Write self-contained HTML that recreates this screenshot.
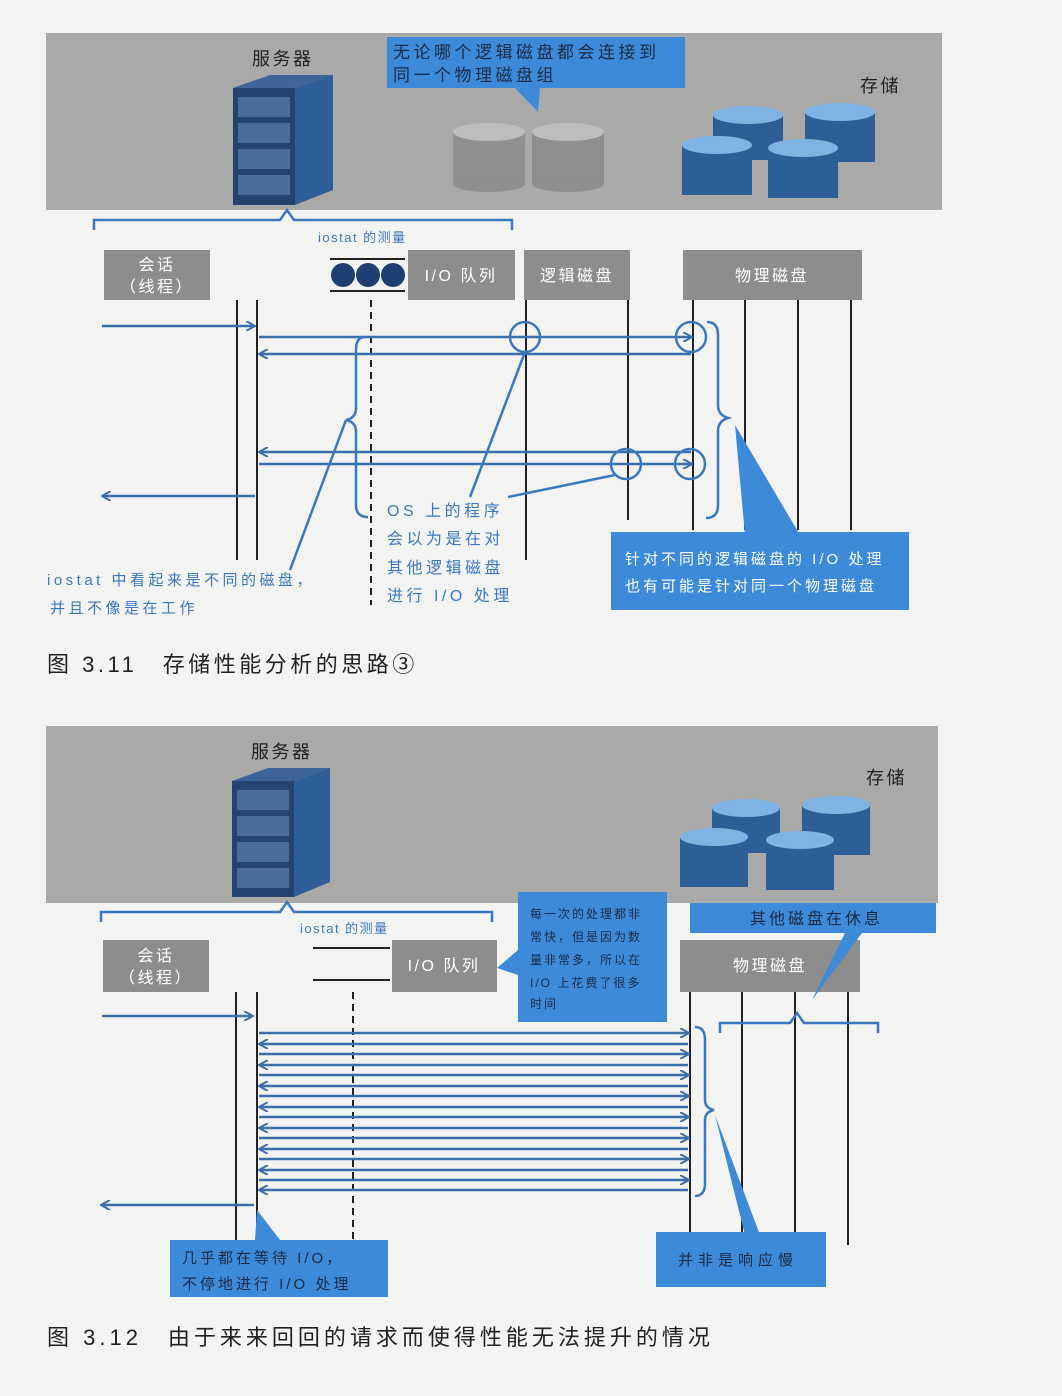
<!DOCTYPE html>
<html><head><meta charset="utf-8"><style>
html,body{margin:0;padding:0;background:#f3f3f1;}
svg{display:block;}
text{font-family:"Liberation Sans","Noto Sans CJK SC",sans-serif;}
.hw{font-size:16px;fill:#2a3a55;letter-spacing:2.5px;}
.hwb{font-size:15px;fill:#fff;letter-spacing:3px;}
.ln{stroke:#222;stroke-width:2;fill:none;}
.bl{stroke:#3a78c0;stroke-width:2.5;fill:none;}
.ar{stroke:#3a6fae;stroke-width:2.5;fill:none;}
.cap{font-size:22px;fill:#222;letter-spacing:3.5px;}
</style></head><body>
<svg width="1062" height="1396" viewBox="0 0 1062 1396" xmlns="http://www.w3.org/2000/svg">
<defs>
<marker id="ah" markerWidth="10" markerHeight="10" refX="8" refY="5" orient="auto" markerUnits="userSpaceOnUse"><path d="M0,0 L9,5 L0,10" fill="none" stroke="#3a6fae" stroke-width="2"/></marker>
</defs>
<rect width="1062" height="1396" fill="#f3f3f1"/>

<!-- ===== FIG 3.11 ===== -->
<rect x="46" y="33" width="896" height="177" fill="#a9a9a8"/>
<text x="252" y="65" class="hw" style="font-size:18px;fill:#222">服务器</text>
<rect x="233" y="88" width="62" height="117" fill="#24446f"/>
<polygon points="233,88 270,75 333,75 295,88" fill="#3d6599"/>
<polygon points="295,88 333,75 333,190 295,205" fill="#2f5f98"/>
<g fill="#4b6d99"><rect x="238" y="97" width="52" height="20"/><rect x="238" y="123" width="52" height="20"/><rect x="238" y="149" width="52" height="20"/><rect x="238" y="175" width="52" height="20"/></g>
<rect x="387" y="37" width="298" height="51" fill="#3d8ad8"/>
<polygon points="515,88 540,88 538,112" fill="#3d8ad8"/>
<text x="393" y="58" class="hwb" style="fill:#1a2a44;font-size:17px;letter-spacing:3.5px">无论哪个逻辑磁盘都会连接到</text>
<text x="393" y="81" class="hwb" style="fill:#1a2a44;font-size:17px;letter-spacing:3.5px">同一个物理磁盘组</text>
<g fill="#8f8f8f"><rect x="453" y="132" width="72" height="52"/><ellipse cx="489" cy="184" rx="36" ry="8"/></g>
<ellipse cx="489" cy="132" rx="36" ry="9" fill="#bdbdbd"/>
<g fill="#8f8f8f"><rect x="532" y="132" width="72" height="52"/><ellipse cx="568" cy="184" rx="36" ry="8"/></g>
<ellipse cx="568" cy="132" rx="36" ry="9" fill="#bdbdbd"/>
<g>
<rect x="713" y="115" width="70" height="45" fill="#2d5f96"/><ellipse cx="748" cy="115" rx="35" ry="9" fill="#7fb3e3"/>
<rect x="805" y="112" width="70" height="50" fill="#2d5f96"/><ellipse cx="840" cy="112" rx="35" ry="9" fill="#7fb3e3"/>
<rect x="682" y="145" width="70" height="50" fill="#2d5f96"/><ellipse cx="717" cy="145" rx="35" ry="9" fill="#7fb3e3"/>
<rect x="768" y="148" width="70" height="50" fill="#2d5f96"/><ellipse cx="803" cy="148" rx="35" ry="9" fill="#7fb3e3"/>
</g>
<text x="860" y="92" class="hw" style="font-size:18px;fill:#222">存储</text>
<path class="bl" d="M94,230 L94,220 L280,220 L287,210 L294,220 L512,220 L512,230"/>
<text x="318" y="242" class="hw" style="font-size:13px;fill:#3a78c0;letter-spacing:1.5px">iostat 的测量</text>
<rect x="104" y="250" width="106" height="50" fill="#8d8d8d"/>
<text x="157" y="270" text-anchor="middle" class="hw" style="fill:#fff">会话</text>
<text x="157" y="292" text-anchor="middle" class="hw" style="fill:#fff">（线程）</text>
<line x1="330" y1="259" x2="405" y2="259" class="ln"/><line x1="330" y1="291" x2="405" y2="291" class="ln"/>
<circle cx="343" cy="275" r="12" fill="#1d3f72"/><circle cx="368" cy="275" r="12" fill="#1d3f72"/><circle cx="393" cy="275" r="12" fill="#1d3f72"/>
<rect x="408" y="250" width="107" height="50" fill="#8d8d8d"/>
<text x="461" y="281" text-anchor="middle" class="hw" style="fill:#fff">I/O 队列</text>
<rect x="524" y="250" width="106" height="50" fill="#8d8d8d"/>
<text x="577" y="281" text-anchor="middle" class="hw" style="fill:#fff">逻辑磁盘</text>
<rect x="683" y="250" width="179" height="50" fill="#8d8d8d"/>
<text x="772" y="281" text-anchor="middle" class="hw" style="fill:#fff">物理磁盘</text>
<line x1="237" y1="300" x2="237" y2="560" class="ln"/><line x1="257" y1="300" x2="257" y2="560" class="ln"/>
<line x1="371" y1="300" x2="371" y2="605" class="ln" stroke-dasharray="7,5"/>
<line x1="526" y1="300" x2="526" y2="560" class="ln"/><line x1="628" y1="300" x2="628" y2="520" class="ln"/>
<line x1="693" y1="300" x2="693" y2="530" class="ln"/><line x1="745" y1="300" x2="745" y2="530" class="ln"/>
<line x1="798" y1="300" x2="798" y2="530" class="ln"/><line x1="851" y1="300" x2="851" y2="530" class="ln"/>
<line x1="102" y1="326" x2="254" y2="326" class="ar" marker-end="url(#ah)"/>
<line x1="259" y1="337" x2="691" y2="337" class="ar" marker-end="url(#ah)"/>
<line x1="691" y1="354" x2="260" y2="354" class="ar" marker-end="url(#ah)"/>
<line x1="691" y1="452" x2="260" y2="452" class="ar" marker-end="url(#ah)"/>
<line x1="259" y1="464" x2="691" y2="464" class="ar" marker-end="url(#ah)"/>
<line x1="255" y1="496" x2="103" y2="496" class="ar" marker-end="url(#ah)"/>
<g class="bl"><circle cx="525" cy="337" r="15"/><circle cx="691" cy="337" r="15"/><circle cx="626" cy="464" r="15"/><circle cx="690" cy="464" r="15"/></g>
<path class="bl" d="M365,337 Q356,337 356,350 L356,408 Q356,418 346,420 Q356,422 356,432 L356,505 Q356,517 368,517"/>
<path class="bl" d="M707,322 Q718,322 718,335 L718,405 Q718,415 728,418 Q718,421 718,431 L718,505 Q718,518 706,518"/>
<path class="bl" d="M346,420 L290,570"/>
<path class="bl" d="M525,352 L470,497"/>
<path class="bl" d="M508,497 L615,475"/>
<path fill="#3d8ad8" d="M735,425 L745,535 L800,535 Z"/>
<text x="387" y="516" class="hw" style="fill:#3a78c0;letter-spacing:3.5px">OS 上的程序</text>
<text x="387" y="544" class="hw" style="fill:#3a78c0;letter-spacing:3.5px">会以为是在对</text>
<text x="387" y="573" class="hw" style="fill:#3a78c0;letter-spacing:3.5px">其他逻辑磁盘</text>
<text x="387" y="601" class="hw" style="fill:#3a78c0;letter-spacing:3.5px">进行 I/O 处理</text>
<text x="47" y="585" class="hw" style="font-size:15px;fill:#3a78c0;letter-spacing:3.5px">iostat 中看起来是不同的磁盘，</text>
<text x="50" y="613" class="hw" style="font-size:15px;fill:#3a78c0;letter-spacing:3.5px">并且不像是在工作</text>
<rect x="611" y="532" width="298" height="78" fill="#3d8ad8"/>
<text x="625" y="564" class="hwb">针对不同的逻辑磁盘的 I/O 处理</text>
<text x="625" y="591" class="hwb">也有可能是针对同一个物理磁盘</text>
<text x="47" y="672" class="cap">图 3.11　存储性能分析的思路③</text>

<!-- ===== FIG 3.12 ===== -->
<rect x="46" y="726" width="892" height="177" fill="#a9a9a8"/>
<text x="251" y="758" class="hw" style="font-size:18px;fill:#222">服务器</text>
<rect x="232" y="781" width="62" height="116" fill="#24446f"/>
<polygon points="232,781 268,768 330,768 294,781" fill="#3d6599"/>
<polygon points="294,781 330,768 330,882 294,897" fill="#2f5f98"/>
<g fill="#4b6d99"><rect x="237" y="790" width="52" height="20"/><rect x="237" y="816" width="52" height="20"/><rect x="237" y="842" width="52" height="20"/><rect x="237" y="868" width="52" height="20"/></g>
<g>
<rect x="712" y="808" width="68" height="45" fill="#2d5f96"/><ellipse cx="746" cy="808" rx="34" ry="9" fill="#7fb3e3"/>
<rect x="802" y="805" width="68" height="50" fill="#2d5f96"/><ellipse cx="836" cy="805" rx="34" ry="9" fill="#7fb3e3"/>
<rect x="680" y="837" width="68" height="50" fill="#2d5f96"/><ellipse cx="714" cy="837" rx="34" ry="9" fill="#7fb3e3"/>
<rect x="766" y="840" width="68" height="50" fill="#2d5f96"/><ellipse cx="800" cy="840" rx="34" ry="9" fill="#7fb3e3"/>
</g>
<text x="866" y="784" class="hw" style="font-size:18px;fill:#222">存储</text>
<path class="bl" d="M101,922 L101,912 L280,912 L287,902 L294,912 L492,912 L492,922"/>
<text x="300" y="933" class="hw" style="font-size:13px;fill:#3a78c0;letter-spacing:1.5px">iostat 的测量</text>
<rect x="103" y="940" width="106" height="52" fill="#8d8d8d"/>
<text x="156" y="961" text-anchor="middle" class="hw" style="fill:#fff">会话</text>
<text x="156" y="983" text-anchor="middle" class="hw" style="fill:#fff">（线程）</text>
<line x1="313" y1="948" x2="390" y2="948" class="ln"/><line x1="313" y1="980" x2="390" y2="980" class="ln"/>
<rect x="392" y="940" width="105" height="52" fill="#8d8d8d"/>
<text x="444" y="971" text-anchor="middle" class="hw" style="fill:#fff">I/O 队列</text>
<rect x="518" y="892" width="149" height="130" fill="#3d8ad8"/>
<polygon points="518,950 497,968 518,975" fill="#3d8ad8"/>
<g style="font-size:12px;fill:#1a2a44;letter-spacing:2px"><text x="530" y="918">每一次的处理都非</text><text x="530" y="941">常快，但是因为数</text><text x="530" y="964">量非常多，所以在</text><text x="530" y="987">I/O 上花费了很多</text><text x="530" y="1008">时间</text></g>
<rect x="690" y="903" width="246" height="30" fill="#3d8ad8"/>
<text x="750" y="924" class="hwb" style="fill:#1a2a44;font-size:16px">其他磁盘在休息</text>
<rect x="680" y="940" width="180" height="52" fill="#8d8d8d"/>
<text x="770" y="971" text-anchor="middle" class="hw" style="fill:#fff">物理磁盘</text>
<polygon points="845,933 862,933 812,1000" fill="#3d8ad8"/>
<line x1="236" y1="992" x2="236" y2="1240" class="ln"/><line x1="257" y1="992" x2="257" y2="1240" class="ln"/>
<line x1="353" y1="992" x2="353" y2="1240" class="ln" stroke-dasharray="7,5"/>
<line x1="690" y1="992" x2="690" y2="1240" class="ln"/><line x1="742" y1="992" x2="742" y2="1245" class="ln"/>
<line x1="795" y1="992" x2="795" y2="1245" class="ln"/><line x1="848" y1="992" x2="848" y2="1245" class="ln"/>
<line x1="102" y1="1016" x2="252" y2="1016" class="ar" marker-end="url(#ah)"/>
<g class="ar">
<line x1="259" y1="1033" x2="688" y2="1033" marker-end="url(#ah)"/>
<line x1="688" y1="1044" x2="260" y2="1044" marker-end="url(#ah)"/>
<line x1="259" y1="1054" x2="688" y2="1054" marker-end="url(#ah)"/>
<line x1="688" y1="1065" x2="260" y2="1065" marker-end="url(#ah)"/>
<line x1="259" y1="1075" x2="688" y2="1075" marker-end="url(#ah)"/>
<line x1="688" y1="1086" x2="260" y2="1086" marker-end="url(#ah)"/>
<line x1="259" y1="1096" x2="688" y2="1096" marker-end="url(#ah)"/>
<line x1="688" y1="1107" x2="260" y2="1107" marker-end="url(#ah)"/>
<line x1="259" y1="1117" x2="688" y2="1117" marker-end="url(#ah)"/>
<line x1="688" y1="1128" x2="260" y2="1128" marker-end="url(#ah)"/>
<line x1="259" y1="1138" x2="688" y2="1138" marker-end="url(#ah)"/>
<line x1="688" y1="1149" x2="260" y2="1149" marker-end="url(#ah)"/>
<line x1="259" y1="1159" x2="688" y2="1159" marker-end="url(#ah)"/>
<line x1="688" y1="1170" x2="260" y2="1170" marker-end="url(#ah)"/>
<line x1="259" y1="1180" x2="688" y2="1180" marker-end="url(#ah)"/>
<line x1="688" y1="1190" x2="260" y2="1190" marker-end="url(#ah)"/>
</g>
<line x1="254" y1="1205" x2="102" y2="1205" class="ar" marker-end="url(#ah)"/>
<path class="bl" d="M695,1027 Q705,1027 705,1040 L705,1100 Q705,1108 714,1110 Q705,1112 705,1120 L705,1183 Q705,1196 695,1196"/>
<path class="bl" d="M720,1033 L720,1023 L790,1023 L797,1013 L804,1023 L878,1023 L878,1033"/>
<polygon points="715,1115 745,1235 760,1235" fill="#3d8ad8"/>
<polygon points="257,1210 255,1240 280,1240" fill="#3d8ad8"/>
<rect x="170" y="1240" width="218" height="57" fill="#3d8ad8"/>
<text x="182" y="1263" class="hwb" style="fill:#1a2a44">几乎都在等待 I/O，</text>
<text x="182" y="1289" class="hwb" style="fill:#1a2a44">不停地进行 I/O 处理</text>
<rect x="656" y="1232" width="170" height="55" fill="#3d8ad8"/>
<text x="678" y="1265" class="hwb" style="fill:#1a2a44;letter-spacing:5px">并非是响应慢</text>
<text x="47" y="1345" class="cap" style="letter-spacing:4px">图 3.12　由于来来回回的请求而使得性能无法提升的情况</text>
</svg>
</body></html>
